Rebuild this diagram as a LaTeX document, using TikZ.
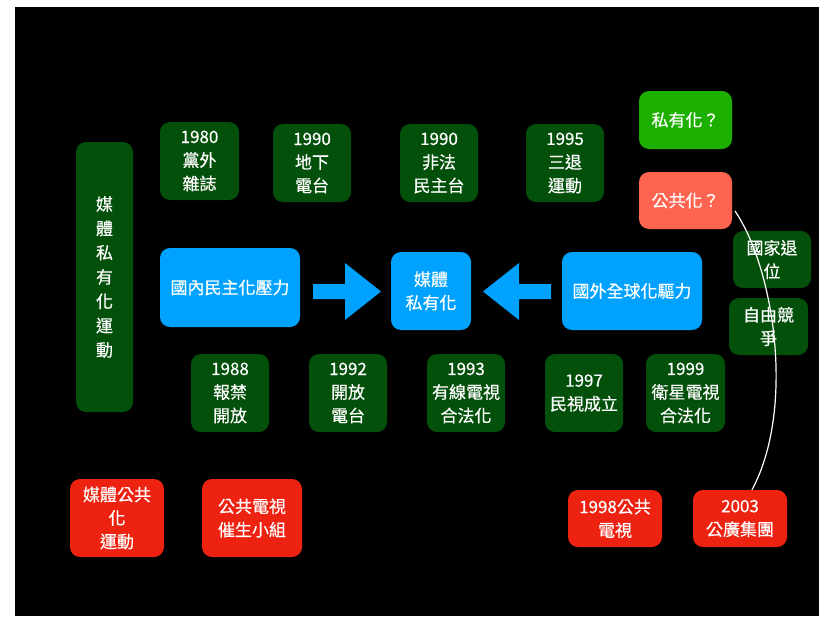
\documentclass[tikz,border=0pt]{standalone}
\usepackage{fontspec}
\setmainfont{Noto Sans CJK TC}[FakeBold=0.5]
\definecolor{dgreen}{RGB}{3,80,10}
\definecolor{bgreen}{RGB}{30,176,0}
\definecolor{salmon}{RGB}{255,100,80}
\definecolor{hred}{RGB}{238,34,17}
\definecolor{hblue}{RGB}{0,162,255}
\begin{document}
\begin{tikzpicture}[x=1pt,y=-1pt,
  box/.style={rectangle, rounded corners=10pt, text=white, align=center, inner sep=0pt,
    font=\fontsize{17}{23.5}\selectfont},
  gbox/.style={box, fill=dgreen, minimum width=78pt, minimum height=78pt},
  rbox/.style={box, fill=hred},
  bbox/.style={box, fill=hblue},
  barrow/.style={fill=hblue}]
\useasboundingbox (0,0) rectangle (819,616);
\fill[white] (0,0) rectangle (819,616);
\fill[black] (15,7) rectangle (819,616);

% left vertical
\node[box, fill=dgreen, minimum width=57pt, minimum height=270pt, font=\fontsize{17}{24.3}\selectfont] (leftv) at (104.5,277) {媒\\體\\私\\有\\化\\運\\動};

% top row
\node[gbox, minimum width=79pt] (n1980) at (199.5,161) {1980\\黨外\\雜誌};
\node[gbox] (n1990a) at (312,163) {1990\\地下\\電台};
\node[gbox] (n1990b) at (439,163) {1990\\非法\\民主台};
\node[gbox] (n1995) at (565,163) {1995\\三退\\運動};

% questions
\node[box, fill=bgreen, minimum width=93pt, minimum height=58pt] (privq) at (685.5,120) {私有化？};
\node[box, fill=salmon, minimum width=93pt, minimum height=57pt] (pubq) at (685.5,200.5) {公共化？};

% right side
\node[box, fill=dgreen, minimum width=78pt, minimum height=57pt] (retreat) at (772,259.5) {國家退\\位};
\node[box, fill=dgreen, minimum width=79pt, minimum height=57pt] (compete) at (768.5,326.5) {自由競\\爭};

% middle row
\node[bbox, minimum width=140pt, minimum height=79pt] (dom) at (230,287.5) {國內民主化壓力};
\node[bbox, minimum width=80pt, minimum height=78pt] (center) at (431,291) {媒體\\私有化};
\node[bbox, minimum width=140pt, minimum height=78pt] (glob) at (632,291) {國外全球化驅力};

% block arrows
\fill[barrow] (313,284) -- (345,284) -- (345,263) -- (381,291.5) -- (345,320) -- (345,299) -- (313,299) -- cycle;
\fill[barrow] (551,284) -- (519,284) -- (519,263) -- (483,291.5) -- (519,320) -- (519,299) -- (551,299) -- cycle;

% bottom row
\node[gbox] (b1988) at (230,393) {1988\\報禁\\開放};
\node[gbox] (b1992) at (348,393) {1992\\開放\\電台};
\node[gbox] (b1993) at (466,393) {1993\\有線電視\\合法化};
\node[gbox] (b1997) at (584,393) {1997\\民視成立};
\node[gbox, minimum width=79pt] (b1999) at (685.5,393) {1999\\衛星電視\\合法化};

% red boxes
\node[rbox, minimum width=94pt, minimum height=78pt] (r1) at (117,518) {媒體公共\\化\\運動};
\node[rbox, minimum width=100pt, minimum height=78pt] (r2) at (252,518) {公共電視\\催生小組};
\node[rbox, minimum width=94pt, minimum height=57pt] (r3) at (615,518.5) {1998公共\\電視};
\node[rbox, minimum width=94pt, minimum height=57pt] (r4) at (740,518.5) {2003\\公廣集團};

% curve
\coordinate (cs) at (735,211);
\draw[white, line width=1.2pt] (cs) .. controls (775,270) and (795,410) .. ([xshift=12pt]r4.north);
\end{tikzpicture}
\end{document}
